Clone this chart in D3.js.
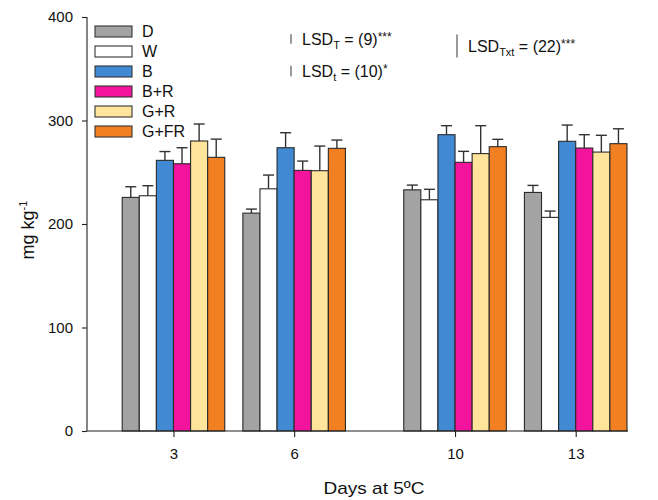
<!DOCTYPE html>
<html>
<head>
<meta charset="utf-8">
<script src="https://cdn.jsdelivr.net/npm/d3@7"></script>
<style>
  body { margin: 0; background: #fff; }
  text { font-family: "Liberation Sans", Arial, sans-serif; fill: #111; }
</style>
</head>
<body>
<div id="chart"></div>
<script>
////////////////// Data ////////////////////
var days = [3, 6, 10, 13];
var treatments = ["D", "W", "B", "B+R", "G+R", "G+FR"];
var colors = ["#a3a3a3", "#ffffff", "#4189d2", "#f2149c", "#ffe59b", "#f28022"];

var meanD   = [225.7, 210.5, 233.0, 230.5];
var meanW   = [227.3, 234.0, 223.4, 206.4];
var meanB   = [261.5, 273.7, 286.3, 279.9];
var meanBR  = [258.2, 251.8, 259.6, 273.4];
var meanGR  = [280.2, 251.5, 268.0, 269.5];
var meanGFR = [264.4, 273.1, 274.7, 277.6];

var errD   = [10.3, 3.9, 4.6, 6.8];
var errW   = [9.7, 13.3, 10.1, 6.1];
var errB   = [8.5, 14.5, 8.7, 15.7];
var errBR  = [15.5, 9.0, 10.6, 12.9];
var errGR  = [16.4, 23.8, 27.0, 16.2];
var errGFR = [17.6, 8.0, 7.1, 14.4];

var yTicks = [0, 100, 200, 300, 400];

// LSD annotations: subscript, value, stars
var lsdLabels = ["T", "t", "Txt"];
var lsdValues = [9, 10, 22];
var lsdStars = ["***", "*", "***"];

var means = [meanD, meanW, meanB, meanBR, meanGR, meanGFR];
var errs = [errD, errW, errB, errBR, errGR, errGFR];

////////////////// Chart Parameters ////////////////////
var svgWidth = 658;
var svgHeight = 500;
var font = "Liberation Sans, Arial, sans-serif";

var svg = d3.select("#chart").append("svg")
  .attr("width", svgWidth)
  .attr("height", svgHeight);

////////// Scales //////////
var xScale = d3.scaleLinear()
  .domain([0.85, 14.3])
  .range([87, 628]);

var yScale = d3.scaleLinear()
  .domain([0, 400])
  .range([431, 17]);

var barW = 0.425; // bar width in days

////////// Bars + error bars //////////
var rows = [];
treatments.forEach(function (t, i) {
  days.forEach(function (d, j) {
    rows.push({ t: i, day: d, mean: means[i][j], err: errs[i][j] });
  });
});

var g = svg.append("g");

// error bars first, the bars then hide the lower half
g.selectAll("line.err")
  .data(rows)
  .enter()
  .append("line")
  .attr("class", "err")
  .attr("x1", d => xScale(d.day + (d.t - 2.5) * barW))
  .attr("x2", d => xScale(d.day + (d.t - 2.5) * barW))
  .attr("y1", d => yScale(d.mean))
  .attr("y2", d => yScale(d.mean + d.err))
  .attr("stroke", "#333")
  .attr("stroke-width", 1.4);

g.selectAll("line.cap")
  .data(rows)
  .enter()
  .append("line")
  .attr("class", "cap")
  .attr("x1", d => xScale(d.day + (d.t - 2.5) * barW) - 5.5)
  .attr("x2", d => xScale(d.day + (d.t - 2.5) * barW) + 5.5)
  .attr("y1", d => yScale(d.mean + d.err))
  .attr("y2", d => yScale(d.mean + d.err))
  .attr("stroke", "#333")
  .attr("stroke-width", 1.4);

g.selectAll("rect.bar")
  .data(rows)
  .enter()
  .append("rect")
  .attr("class", "bar")
  .attr("x", d => xScale(d.day + (d.t - 3) * barW))
  .attr("width", d => xScale(d.day + (d.t - 2) * barW) - xScale(d.day + (d.t - 3) * barW))
  .attr("y", d => yScale(d.mean))
  .attr("height", d => yScale(0) - yScale(d.mean))
  .attr("fill", d => colors[d.t])
  .attr("stroke", "#2a2a2a")
  .attr("stroke-width", 1.1);

////////// Axes //////////
var yAxis = d3.axisLeft(yScale).tickValues(yTicks).tickSize(5).tickPadding(9);
var xAxis = d3.axisBottom(xScale).tickValues(days).tickSize(6).tickPadding(11);

var yg = svg.append("g")
  .attr("transform", "translate(87,0)")
  .call(yAxis);
var xg = svg.append("g")
  .attr("transform", "translate(0,431)")
  .call(xAxis);

[yg, xg].forEach(function (a) {
  a.select(".domain").attr("stroke", "#222").attr("stroke-width", 1.1);
  a.selectAll(".tick line").attr("stroke", "#222").attr("stroke-width", 1.1);
  a.selectAll(".tick text")
    .style("font-family", font)
    .style("font-size", "15px")
    .attr("fill", "#111");
});
yg.select(".domain").attr("d", "M0," + yScale(400) + "V" + yScale(0));
xg.select(".domain").attr("d", "M" + xScale.range()[0] + ",0H" + xScale.range()[1]);

////////// Axis labels //////////
svg.append("text")
  .attr("x", 374)
  .attr("y", 494)
  .attr("text-anchor", "middle")
  .attr("textLength", 101)
  .attr("lengthAdjust", "spacingAndGlyphs")
  .style("font-size", "17px")
  .text("Days at 5ºC");

var yl = svg.append("text")
  .attr("transform", "translate(34,230) rotate(-90)")
  .attr("text-anchor", "middle")
  .style("font-size", "18px");
yl.append("tspan").text("mg kg");
yl.append("tspan").attr("dy", -7).style("font-size", "11px").text("-1");

////////// Legend //////////
var legend = svg.selectAll("g.leg")
  .data(treatments)
  .enter()
  .append("g")
  .attr("class", "leg")
  .attr("transform", (d, i) => "translate(95," + (26 + i * 20) + ")");

legend.append("rect")
  .attr("width", 37)
  .attr("height", 11)
  .attr("fill", (d, i) => colors[i])
  .attr("stroke", "#333")
  .attr("stroke-width", 1.1);

legend.append("text")
  .attr("x", 47)
  .attr("y", 11)
  .style("font-size", "16px")
  .text(d => d);

////////// LSD annotations //////////
var lsdPos = [[291, 45], [291, 77], [457, 52]];

lsdLabels.forEach(function (lab, i) {
  var px = lsdPos[i][0], py = lsdPos[i][1];
  var len = yScale(0) - yScale(lsdValues[i]);
  svg.append("line")
    .attr("x1", px).attr("x2", px)
    .attr("y1", py - 6 - len / 2)
    .attr("y2", py - 6 + len / 2)
    .attr("stroke", "#555")
    .attr("stroke-width", 1.2);
  var t = svg.append("text")
    .attr("x", px + 11)
    .attr("y", py)
    .style("font-size", "16px");
  t.append("tspan").text("LSD");
  t.append("tspan").attr("dy", 4).style("font-size", "11px").text(lab);
  t.append("tspan").attr("dy", -4).text(" = (" + lsdValues[i] + ")");
  t.append("tspan").attr("dy", -4).style("font-size", "12px").text(lsdStars[i]);
});
</script>
</body>
</html>
